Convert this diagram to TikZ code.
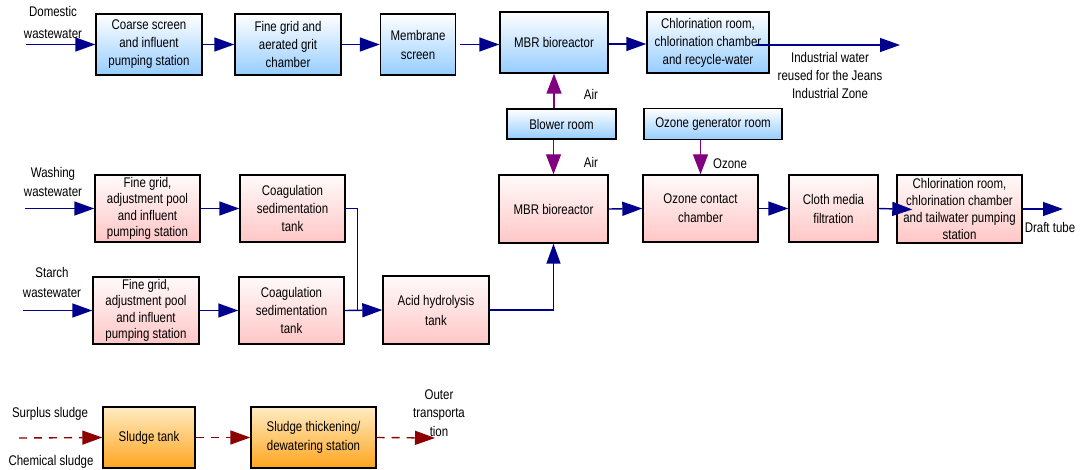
\documentclass[tikz,border=0pt]{standalone}
\usepackage{fontspec}
\setmainfont{Liberation Sans}[FakeStretch=0.82]
\usetikzlibrary{arrows.meta}
\definecolor{flowc}{RGB}{0,0,140}
\definecolor{airc}{RGB}{128,0,128}
\definecolor{sludgec}{RGB}{140,0,0}
\definecolor{bluebot}{RGB}{150,205,255}
\definecolor{pinktop}{RGB}{255,250,250}
\definecolor{pinkbot}{RGB}{255,198,198}
\definecolor{orgtop}{RGB}{255,236,195}
\definecolor{orgbot}{RGB}{255,165,30}
\tikzset{
  box/.style={draw=black, line width=1.4pt, align=center, inner sep=0pt,
    font=\fontsize{14}{17}\selectfont},
  bluebox/.style={box, top color=white, bottom color=bluebot},
  pinkbox/.style={box, top color=pinktop, bottom color=pinkbot},
  orgbox/.style={box, top color=orgtop, bottom color=orgbot},
  lbl/.style={align=center, inner sep=0pt, font=\fontsize{14}{17}\selectfont},
  pipe/.style={draw=flowc, line width=1.4pt},
  flow/.style={pipe, -{Triangle[length=20pt,width=14pt]}},
  air/.style={draw=airc, line width=1.4pt, -{Triangle[length=20pt,width=15pt]}},
  sflow/.style={draw=sludgec, line width=1.4pt, dash pattern=on 8pt off 7pt,
    -{Triangle[length=20pt,width=14pt]}}
}
\begin{document}
\begin{tikzpicture}[x=1pt,y=-1pt]
\useasboundingbox (0,0) rectangle (1081,470);

% top row
\node[bluebox, minimum width=106, minimum height=61, font=\fontsize{14}{18}\selectfont] (cs) at (149,44.5) {Coarse screen\\and influent\\pumping station};
\node[bluebox, minimum width=106, minimum height=61, font=\fontsize{14}{18}\selectfont] (fga) at (288,44.5) {Fine grid and\\aerated grit\\chamber};
\node[bluebox, minimum width=75, minimum height=61, font=\fontsize{14}{19}\selectfont] (mem) at (418,44.5) {Membrane\\screen};
\node[bluebox, minimum width=108, minimum height=61] (mbr1) at (554,42.5) {MBR bioreactor};
\node[bluebox, minimum width=122, minimum height=61, font=\fontsize{14}{18}\selectfont] (chl1) at (708,42.5) {Chlorination room,\\chlorination chamber\\and recycle-water};
\node[bluebox, minimum width=109, minimum height=30] (blow) at (561.5,124) {Blower room};
\node[bluebox, minimum width=138, minimum height=31] (ozg) at (713,124) {Ozone generator room};

% middle row
\node[pinkbox, minimum width=105, minimum height=67, font=\fontsize{14}{16.3}\selectfont] (fg1) at (147.5,208.5) {Fine grid,\\adjustment pool\\and influent\\pumping station};
\node[pinkbox, minimum width=105, minimum height=67, font=\fontsize{14}{18}\selectfont] (cg1) at (292.5,208.5) {Coagulation\\sedimentation\\tank};
\node[pinkbox, minimum width=106, minimum height=67, font=\fontsize{14}{16.3}\selectfont] (fg2) at (146,310.5) {Fine grid,\\adjustment pool\\and influent\\pumping station};
\node[pinkbox, minimum width=105, minimum height=67, font=\fontsize{14}{18}\selectfont] (cg2) at (291.5,310.5) {Coagulation\\sedimentation\\tank};
\node[pinkbox, minimum width=106, minimum height=68, font=\fontsize{14}{20}\selectfont] (acid) at (436,310) {Acid hydrolysis\\tank};
\node[pinkbox, minimum width=109, minimum height=68] (mbr2) at (553.5,209) {MBR bioreactor};
\node[pinkbox, minimum width=115, minimum height=67, font=\fontsize{14}{19}\selectfont] (oc) at (700.5,208.5) {Ozone contact\\chamber};
\node[pinkbox, minimum width=89, minimum height=67, font=\fontsize{14}{19}\selectfont] (cloth) at (833.5,208.5) {Cloth media\\filtration};
\node[pinkbox, minimum width=125, minimum height=68] (chl2) at (959.5,209) {Chlorination room,\\chlorination chamber\\and tailwater pumping\\station};

% sludge row
\node[orgbox, minimum width=92, minimum height=61] (st) at (149,437.5) {Sludge tank};
\node[orgbox, minimum width=125, minimum height=61, font=\fontsize{14}{19}\selectfont] (thk) at (313.5,437.5) {Sludge thickening/\\dewatering station};

% labels
\node[lbl, font=\fontsize{14}{21}\selectfont] (ldom) at (53,22.5) {Domestic\\wastewater};
\node[lbl, font=\fontsize{14}{19}\selectfont] (lwash) at (53,181.5) {Washing\\wastewater};
\node[lbl, font=\fontsize{14}{20}\selectfont] (lstarch) at (52,282) {Starch\\wastewater};
\node[lbl, font=\fontsize{14}{18}\selectfont] (lind) at (830,75) {Industrial water\\reused for the Jeans\\Industrial Zone};
\node[lbl] (lair1) at (591,94) {Air};
\node[lbl] (lair2) at (591,162) {Air};
\node[lbl] (loz) at (730,164) {Ozone};
\node[lbl] (ldraft) at (1050,227) {Draft tube};
\node[lbl] (lsur) at (50,414) {Surplus sludge};
\node[lbl] (lchem) at (51,462) {Chemical sludge};
\node[lbl, font=\fontsize{14}{18.5}\selectfont] (lout) at (439,413) {Outer\\transporta\\tion};

% free ends
\coordinate (in1) at (26,44.5);
\coordinate (in2) at (25,208.5);
\coordinate (in3) at (23,310.5);
\coordinate (out1) at (900,45);
\coordinate (out2) at (1063,209);
\coordinate (sin) at (19,438);
\coordinate (sout) at (435,438);

% top connectors
\draw[flow] (in1) -- (cs.west);
\draw[flow] (cs.east) -- (fga.west);
\draw[flow] (fga.east) -- (mem.west);
\draw[flow] ([xshift=4pt]mem.east) -- (mem.east -| mbr1.west);
\draw[flow] (mbr1.east |- 0,44) -- (chl1.west |- 0,44);
\draw[flow] (out1 -| chl1.east) ++(-14,0) -- (out1);
\draw[air] (mbr1.south |- blow.north) -- (mbr1.south);
\draw[air] (mbr2.north |- blow.south) -- (mbr2.north);
\draw[air] (oc.north |- ozg.south) -- (oc.north);

% middle connectors
\draw[flow] (in2) -- (fg1.west);
\draw[flow] (fg1.east) -- (cg1.west);
\draw[flow] (in3) -- (fg2.west);
\draw[flow] (fg2.east) -- (cg2.west);
\draw[pipe] (cg1.east) -- ++(12,0) coordinate (j) -- (j |- cg2.east);
\draw[flow] (cg2.east) -- (acid.west);
\draw[flow] (acid.east) -| (mbr2.south);
\draw[flow] (mbr2.east) -- (oc.west);
\draw[flow] (oc.east) -- (cloth.west);
\draw[flow, shorten >=-16pt] (cloth.east) -- (chl2.west);
\draw[flow] (chl2.east) -- (out2);

% sludge connectors
\draw[sflow] (sin) -- (st.west);
\draw[sflow] (st.east) -- (thk.west);
\draw[sflow] (thk.east) -- (sout);
\end{tikzpicture}
\end{document}
